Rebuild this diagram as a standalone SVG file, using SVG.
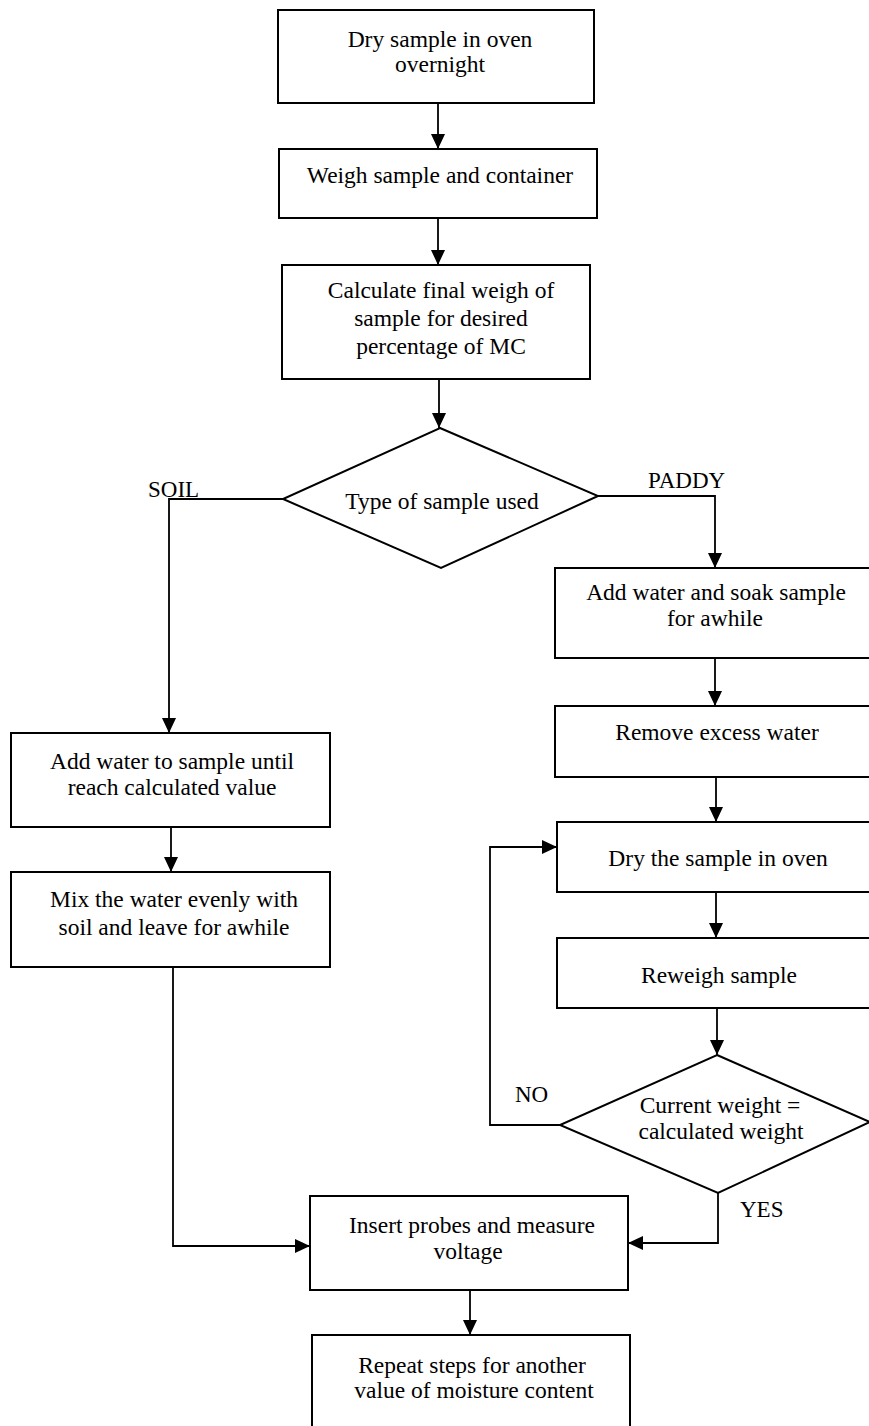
<svg xmlns="http://www.w3.org/2000/svg" width="869" height="1426" viewBox="0 0 869 1426">
<style>
.box{fill:#fff;stroke:#000;stroke-width:2}
.t{font-family:"Liberation Serif","Times New Roman",serif;font-size:23.5px;fill:#000;text-anchor:middle}
.lbl{font-family:"Liberation Serif","Times New Roman",serif;font-size:23px;fill:#000}
.c{fill:none;stroke:#000;stroke-width:1.8}
</style>
<defs>
<marker id="ah" markerUnits="userSpaceOnUse" markerWidth="15" markerHeight="14" refX="15" refY="7" orient="auto">
<path d="M0,0 L15,7 L0,14 z" fill="#000"/>
</marker>
</defs>
<rect width="869" height="1426" fill="#fff"/>
<g id="connectors">
<path class="c" d="M438,103 V149" marker-end="url(#ah)"/>
<path class="c" d="M438,218 V265" marker-end="url(#ah)"/>
<path class="c" d="M439,379 V428" marker-end="url(#ah)"/>
<path class="c" d="M283,499 H169 V733" marker-end="url(#ah)"/>
<path class="c" d="M598,496 H715 V568" marker-end="url(#ah)"/>
<path class="c" d="M715,658 V706" marker-end="url(#ah)"/>
<path class="c" d="M716,777 V822" marker-end="url(#ah)"/>
<path class="c" d="M716,892 V938" marker-end="url(#ah)"/>
<path class="c" d="M717,1008 V1055" marker-end="url(#ah)"/>
<path class="c" d="M560,1125 H490 V847 H557" marker-end="url(#ah)"/>
<path class="c" d="M718,1193 V1243 H628" marker-end="url(#ah)"/>
<path class="c" d="M171,827 V872" marker-end="url(#ah)"/>
<path class="c" d="M173,967 V1246 H310" marker-end="url(#ah)"/>
<path class="c" d="M470,1290 V1335" marker-end="url(#ah)"/>
<text class="lbl" x="148" y="497">SOIL</text>
<text class="lbl" x="648" y="488">PADDY</text>
<text class="lbl" x="515" y="1102">NO</text>
<text class="lbl" x="740" y="1217">YES</text>
</g>
<g id="n1"><rect class="box" x="278" y="10" width="316" height="93"/>
<text class="t" x="440" y="47">Dry sample in oven</text><text class="t" x="440" y="72">overnight</text></g>
<g id="n2"><rect class="box" x="279" y="149" width="318" height="69"/>
<text class="t" x="440" y="183">Weigh sample and container</text></g>
<g id="n3"><rect class="box" x="282" y="265" width="308" height="114"/>
<text class="t" x="441" y="298">Calculate final weigh of</text><text class="t" x="441" y="326">sample for desired</text><text class="t" x="441" y="354">percentage of MC</text></g>
<g id="d1"><polygon class="box" points="440,428 598,496 441,568 283,499"/>
<text class="t" x="442" y="509">Type of sample used</text></g>
<g id="s1"><rect class="box" x="11" y="733" width="319" height="94"/>
<text class="t" x="172" y="769">Add water to sample until</text><text class="t" x="172" y="795">reach calculated value</text></g>
<g id="s2"><rect class="box" x="11" y="872" width="319" height="95"/>
<text class="t" x="174" y="907">Mix the water evenly with</text><text class="t" x="174" y="935">soil and leave for awhile</text></g>
<g id="p1"><rect class="box" x="555" y="568" width="320" height="90"/>
<text class="t" x="716" y="600">Add water and soak sample</text><text class="t" x="715" y="626">for awhile</text></g>
<g id="p2"><rect class="box" x="555" y="706" width="320" height="71"/>
<text class="t" x="717" y="740">Remove excess water</text></g>
<g id="p3"><rect class="box" x="557" y="822" width="318" height="70"/>
<text class="t" x="718" y="866">Dry the sample in oven</text></g>
<g id="p4"><rect class="box" x="557" y="938" width="318" height="70"/>
<text class="t" x="719" y="983">Reweigh sample</text></g>
<g id="d2"><polygon class="box" points="717,1055 870,1122 718,1193 560,1125"/>
<text class="t" x="720" y="1113">Current weight =</text><text class="t" x="721" y="1139">calculated weight</text></g>
<g id="n4"><rect class="box" x="310" y="1196" width="318" height="94"/>
<text class="t" x="472" y="1233">Insert probes and measure</text><text class="t" x="468" y="1259">voltage</text></g>
<g id="n5"><rect class="box" x="312" y="1335" width="318" height="100"/>
<text class="t" x="472" y="1373">Repeat steps for another</text><text class="t" x="474" y="1398">value of moisture content</text></g>
</svg>
